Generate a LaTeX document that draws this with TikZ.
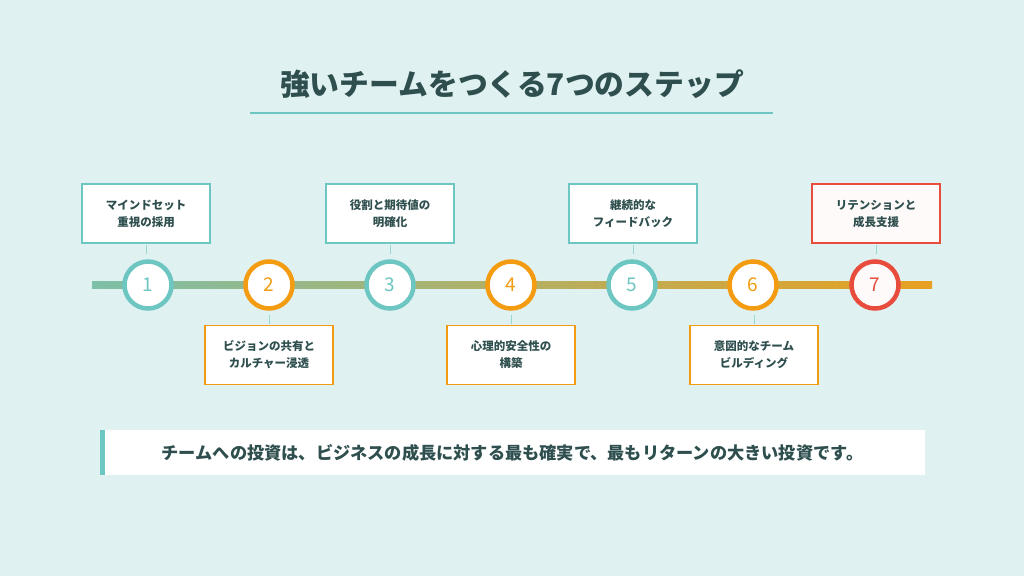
\documentclass[tikz,border=0pt]{standalone}
\usepackage{fontspec}
\setmainfont{Noto Sans CJK JP}
\usetikzlibrary{positioning}
\definecolor{bgc}{HTML}{E0F1F1}
\definecolor{inkc}{HTML}{2F4F4F}
\definecolor{tealc}{HTML}{6EC6C2}
\definecolor{orc}{HTML}{F39C12}
\definecolor{redc}{HTML}{E74C3C}
\definecolor{lineL}{HTML}{7DBFA8}
\definecolor{lineR}{HTML}{E8A020}
\tikzset{
  stepbox/.style = {rectangle, draw, line width=1.5pt, fill=white, minimum width=128pt, minimum height=59pt, align=center, font=\bfseries\fontsize{11.5}{17}\selectfont, text=inkc},
  stepdot/.style = {circle, draw, line width=4.5pt, fill=white, minimum size=47pt, inner sep=0pt, font=\fontsize{19}{19}\selectfont},
  tick/.style = {draw=tealc!70, line width=1pt}
}
\begin{document}
\begin{tikzpicture}[x=1pt, y=-1pt]
          \useasboundingbox (0,0) rectangle (1024,576);
          \fill[bgc] (0,0) rectangle (1024,576);
          % title
          \node[font=\bfseries\fontsize{29.8}{30}\selectfont, text=inkc] (title) at (512,84) {強いチームをつくる7つのステップ};
          \coordinate (ulA) at (250,113);
          \coordinate (ulB) at (773,113);
          \draw[tealc, line width=2pt] (ulA) -- (ulB);
          % timeline
          \shade[left color=lineL, right color=lineR] (92,281.5) rectangle (932,288.5);
          % dots
          \node[stepdot, draw=tealc, text=tealc] (d1) at (148,285) {1};
          \node[stepdot, draw=orc, text=orc] (d2) at (269,285) {2};
          \node[stepdot, draw=tealc, text=tealc] (d3) at (390,285) {3};
          \node[stepdot, draw=orc, text=orc] (d4) at (511,285) {4};
          \node[stepdot, draw=tealc, text=tealc] (d5) at (632,285) {5};
          \node[stepdot, draw=orc, text=orc] (d6) at (753,285) {6};
          \node[stepdot, draw=redc, text=redc, fill=red!2] (d7) at (875,285) {7};
          % boxes
          \node[stepbox, draw=tealc] (b1) at (146,213.5) {マインドセット\\重視の採用};
          \node[stepbox, draw=orc] (b2) at (269,355) {ビジョンの共有と\\カルチャー浸透};
          \node[stepbox, draw=tealc] (b3) at (390,213.5) {役割と期待値の\\明確化};
          \node[stepbox, draw=orc] (b4) at (511,355) {心理的安全性の\\構築};
          \node[stepbox, draw=tealc] (b5) at (633,213.5) {継続的な\\フィードバック};
          \node[stepbox, draw=orc] (b6) at (754,355) {意図的なチーム\\ビルディング};
          \node[stepbox, draw=redc, fill=red!2] (b7) at (876,213.5) {リテンションと\\成長支援};
          % connections
          \foreach \i in {1,3,5,7} \draw[tick] (b\i.south) ++(0,0.75) -- ++(0,9);
          \foreach \i in {2,4,6} \draw[tick] (b\i.north) ++(0,-0.75) -- ++(0,-9);
          % message
          \node[fill=white, minimum width=825pt, minimum height=45pt, font=\bfseries\fontsize{17.2}{17}\selectfont, text=inkc] (msg) at (512.5,452.5) {チームへの投資は、ビジネスの成長に対する最も確実で、最もリターンの大きい投資です。};
          \fill[tealc] (msg.north west) rectangle ++(5,45);
        \end{tikzpicture}
\end{document}
